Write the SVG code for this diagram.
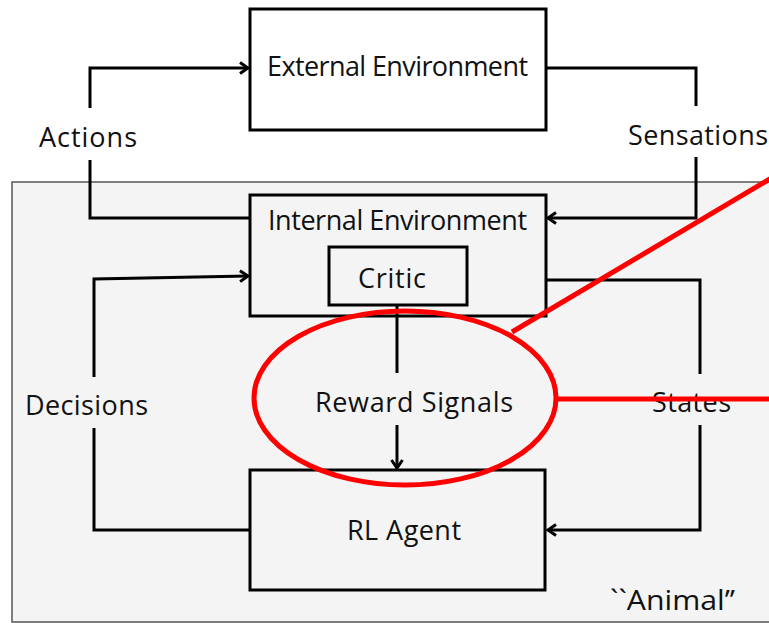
<svg xmlns="http://www.w3.org/2000/svg" width="769" height="623" viewBox="0 0 769 623">
<defs>
<style>
.box{fill:none;stroke:#000;stroke-width:3}
.wbox{fill:#fff;stroke:#000;stroke-width:3}
.con{fill:none;stroke:#000;stroke-width:3}
.lbl{font-family:"Open Sans","Liberation Sans",sans-serif;font-size:27px;fill:#111;text-anchor:middle}
.red{fill:none;stroke:#f00;stroke-width:5}
</style>
<marker id="arr" markerUnits="userSpaceOnUse" markerWidth="14" markerHeight="14" refX="11" refY="7" orient="auto">
<path d="M3,1.5 L11,7 L3,12.5" fill="none" stroke="#000" stroke-width="3"/>
</marker>
</defs>
<rect width="769" height="623" fill="#fff"/>
<g id="animal">
<rect x="12" y="182" width="780" height="440" fill="#f4f4f4" stroke="#555" stroke-width="1.5"/>
<text class="lbl" x="672.5" y="610" textLength="125" lengthAdjust="spacingAndGlyphs">``Animal’’</text>
</g>
<g id="external">
<rect class="wbox" x="250" y="9" width="296" height="121"/>
<text class="lbl" x="397.5" y="76" textLength="261">External Environment</text>
</g>
<g id="internal">
<rect class="box" x="250" y="195" width="296" height="121"/>
<text class="lbl" x="397.5" y="230" textLength="259">Internal Environment</text>
</g>
<g id="critic">
<rect class="box" x="329" y="247" width="138" height="58"/>
<text class="lbl" x="392" y="288" textLength="68">Critic</text>
</g>
<g id="agent">
<rect class="box" x="250" y="470" width="295" height="120"/>
<text class="lbl" x="404" y="540" textLength="114">RL Agent</text>
</g>
<g id="connectors">
<path class="con" d="M90,108 V68 H248" marker-end="url(#arr)"/>
<path class="con" d="M90,160 V218 H250"/>
<text class="lbl" x="88" y="147" textLength="98">Actions</text>
<path class="con" d="M546,68 H696 V106"/>
<path class="con" d="M696,157 V218 H548" marker-end="url(#arr)"/>
<text class="lbl" x="698" y="145" textLength="140">Sensations</text>
<path class="con" d="M250,530 H94 V428"/>
<path class="con" d="M94,377 V279 L248,276" marker-end="url(#arr)"/>
<text class="lbl" x="86.5" y="415" textLength="123">Decisions</text>
<path class="con" d="M546,280 H700 V374"/>
<path class="con" d="M700,425 V530 H548" marker-end="url(#arr)"/>
<text class="lbl" x="691.5" y="412" textLength="79">States</text>
<path class="con" d="M397,305 V373"/>
<path class="con" d="M397,425 V468" marker-end="url(#arr)"/>
<text class="lbl" x="414" y="412" textLength="198">Reward Signals</text>
</g>
<g id="highlight">
<ellipse class="red" cx="405" cy="398" rx="151" ry="87"/>
<path class="red" d="M512,332 L785,170"/>
<path class="red" d="M556,399 H775"/>
</g>
</svg>
